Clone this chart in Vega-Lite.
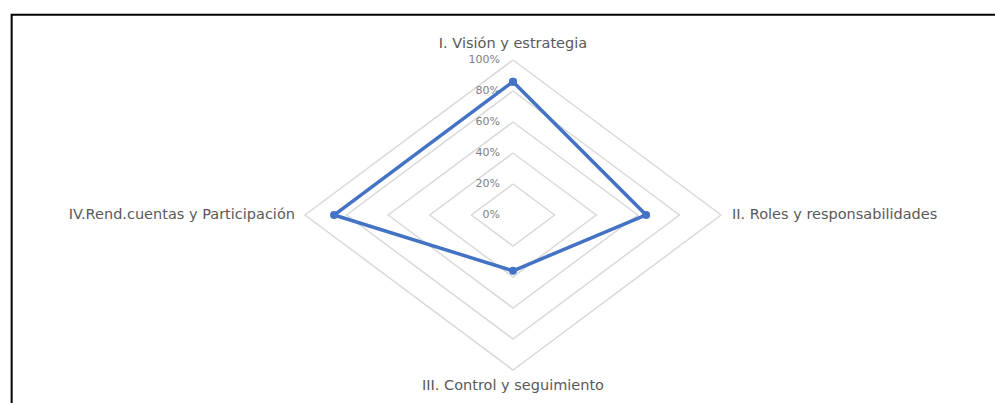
{
  "$schema": "https://vega.github.io/schema/vega-lite/v6.json",
  "width": 995,
  "height": 403,
  "autosize": {"type": "fit", "contains": "padding"},
  "padding": 0,
  "background": "white",
  "config": {"view": {"stroke": null}},
  "datasets": {
    "scores": [
      {"axis": "I. Visión y estrategia", "idx": 0, "value": 0.86, "seq": 0},
      {"axis": "II. Roles y responsabilidades", "idx": 1, "value": 0.64, "seq": 1},
      {"axis": "III. Control y seguimiento", "idx": 2, "value": 0.36, "seq": 2},
      {"axis": "IV.Rend.cuentas y Participación", "idx": 3, "value": 0.86, "seq": 3},
      {"axis": "I. Visión y estrategia", "idx": 0, "value": 0.86, "seq": 4}
    ],
    "grid": [
      {"level": 0.2, "idx": 0, "seq": 0}, {"level": 0.2, "idx": 1, "seq": 1}, {"level": 0.2, "idx": 2, "seq": 2}, {"level": 0.2, "idx": 3, "seq": 3}, {"level": 0.2, "idx": 0, "seq": 4},
      {"level": 0.4, "idx": 0, "seq": 0}, {"level": 0.4, "idx": 1, "seq": 1}, {"level": 0.4, "idx": 2, "seq": 2}, {"level": 0.4, "idx": 3, "seq": 3}, {"level": 0.4, "idx": 0, "seq": 4},
      {"level": 0.6, "idx": 0, "seq": 0}, {"level": 0.6, "idx": 1, "seq": 1}, {"level": 0.6, "idx": 2, "seq": 2}, {"level": 0.6, "idx": 3, "seq": 3}, {"level": 0.6, "idx": 0, "seq": 4},
      {"level": 0.8, "idx": 0, "seq": 0}, {"level": 0.8, "idx": 1, "seq": 1}, {"level": 0.8, "idx": 2, "seq": 2}, {"level": 0.8, "idx": 3, "seq": 3}, {"level": 0.8, "idx": 0, "seq": 4},
      {"level": 1.0, "idx": 0, "seq": 0}, {"level": 1.0, "idx": 1, "seq": 1}, {"level": 1.0, "idx": 2, "seq": 2}, {"level": 1.0, "idx": 3, "seq": 3}, {"level": 1.0, "idx": 0, "seq": 4}
    ],
    "ticks": [
      {"level": 0, "label": "0%"},
      {"level": 0.2, "label": "20%"},
      {"level": 0.4, "label": "40%"},
      {"level": 0.6, "label": "60%"},
      {"level": 0.8, "label": "80%"},
      {"level": 1.0, "label": "100%"}
    ],
    "labels": [
      {"axis": "I. Visión y estrategia", "idx": 0},
      {"axis": "II. Roles y responsabilidades", "idx": 1},
      {"axis": "III. Control y seguimiento", "idx": 2},
      {"axis": "IV.Rend.cuentas y Participación", "idx": 3}
    ]
  },
  "layer": [
    {
      "data": {"values": [{"a": 1}]},
      "mark": {"type": "rect", "fill": null, "fillOpacity": 0, "stroke": "#000000", "strokeWidth": 2, "clip": true},
      "encoding": {
        "x": {"datum": -2.41, "type": "quantitative", "scale": {"domain": [-2.466, 2.317], "zero": false, "nice": false}, "axis": null},
        "x2": {"datum": 6},
        "y": {"datum": 1.292, "type": "quantitative", "scale": {"domain": [-1.213, 1.387], "zero": false, "nice": false}, "axis": null},
        "y2": {"datum": -6}
      }
    },
    {
      "data": {"name": "grid"},
      "transform": [
        {"calculate": "datum.level * sin(datum.idx * PI / 2)", "as": "x"},
        {"calculate": "datum.level * cos(datum.idx * PI / 2)", "as": "y"}
      ],
      "mark": {"type": "line", "stroke": "#d9d9d9", "strokeWidth": 1.5},
      "encoding": {
        "x": {"field": "x", "type": "quantitative", "scale": {"domain": [-2.466, 2.317], "zero": false, "nice": false}, "axis": null},
        "y": {"field": "y", "type": "quantitative", "scale": {"domain": [-1.213, 1.387], "zero": false, "nice": false}, "axis": null},
        "detail": {"field": "level", "type": "nominal"},
        "order": {"field": "seq", "type": "quantitative"}
      }
    },
    {
      "data": {"name": "ticks"},
      "mark": {"type": "text", "align": "right", "baseline": "middle", "dx": -13, "fontSize": 11, "font": "DejaVu Sans", "fill": "#808080"},
      "encoding": {
        "x": {"datum": 0, "type": "quantitative"},
        "y": {"field": "level", "type": "quantitative"},
        "text": {"field": "label"}
      }
    },
    {
      "data": {"name": "scores"},
      "transform": [
        {"calculate": "datum.value * sin(datum.idx * PI / 2)", "as": "x"},
        {"calculate": "datum.value * cos(datum.idx * PI / 2)", "as": "y"}
      ],
      "mark": {"type": "line", "stroke": "#4472c4", "strokeWidth": 3.5, "point": {"filled": true, "fill": "#4472c4", "size": 64}},
      "encoding": {
        "x": {"field": "x", "type": "quantitative"},
        "y": {"field": "y", "type": "quantitative"},
        "order": {"field": "seq", "type": "quantitative"}
      }
    },
    {
      "data": {"name": "labels"},
      "transform": [
        {"filter": "datum.idx == 0 || datum.idx == 2"},
        {"calculate": "sin(datum.idx * PI / 2)", "as": "x"},
        {"calculate": "cos(datum.idx * PI / 2) * 1.103", "as": "y"}
      ],
      "mark": {"type": "text", "align": "center", "baseline": "middle", "fontSize": 14.5, "font": "DejaVu Sans", "fill": "#595959"},
      "encoding": {
        "x": {"field": "x", "type": "quantitative"},
        "y": {"field": "y", "type": "quantitative"},
        "text": {"field": "axis"}
      }
    },
    {
      "data": {"name": "labels"},
      "transform": [
        {"filter": "datum.idx == 1"},
        {"calculate": "1", "as": "x"},
        {"calculate": "0", "as": "y"}
      ],
      "mark": {"type": "text", "align": "left", "baseline": "middle", "dx": 11, "fontSize": 14.5, "font": "DejaVu Sans", "fill": "#595959"},
      "encoding": {
        "x": {"field": "x", "type": "quantitative"},
        "y": {"field": "y", "type": "quantitative"},
        "text": {"field": "axis"}
      }
    },
    {
      "data": {"name": "labels"},
      "transform": [
        {"filter": "datum.idx == 3"},
        {"calculate": "-1", "as": "x"},
        {"calculate": "0", "as": "y"}
      ],
      "mark": {"type": "text", "align": "right", "baseline": "middle", "dx": -10, "fontSize": 14.5, "font": "DejaVu Sans", "fill": "#595959"},
      "encoding": {
        "x": {"field": "x", "type": "quantitative"},
        "y": {"field": "y", "type": "quantitative"},
        "text": {"field": "axis"}
      }
    }
  ]
}
